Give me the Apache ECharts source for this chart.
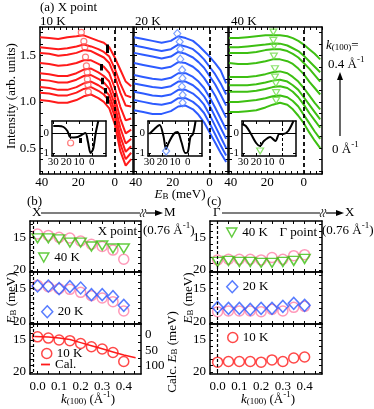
<!DOCTYPE html>
<html>
<head>
<meta charset="utf-8">
<script src="https://cdn.jsdelivr.net/npm/echarts@6/dist/echarts.min.js"></script>
<style>
html, body { margin: 0; padding: 0; background: #fff; }
#chart { width: 374px; height: 409px; }
</style>
</head>
<body>
<div id="chart"></div>
<script>
const FONT = '"Liberation Serif", "DejaVu Serif", serif';

// ---- panel (a): spectra, binding energy grid (meV) ----
const ebX = [41, 36, 31, 26, 21, 17, 13, 9, 6, 3, 0, -3, -6, -9];
const kVals = [0, 0.05, 0.1, 0.15, 0.2, 0.25, 0.3, 0.35, 0.4];

// one row per k(100), from 0 (bottom) to 0.4 (top)
const spec10K = [
    [1.02, 1.01, 0.99, 0.99, 1.02, 1.06, 1.08, 1.04, 1.00, 0.93, 0.76, 0.47, 0.31, 0.38],
    [1.10, 1.09, 1.07, 1.07, 1.10, 1.14, 1.16, 1.12, 1.08, 1.01, 0.84, 0.55, 0.38, 0.45],
    [1.16, 1.15, 1.13, 1.13, 1.16, 1.20, 1.22, 1.18, 1.14, 1.07, 0.90, 0.63, 0.46, 0.52],
    [1.24, 1.23, 1.21, 1.21, 1.24, 1.28, 1.29, 1.25, 1.21, 1.14, 0.97, 0.72, 0.55, 0.60],
    [1.31, 1.30, 1.28, 1.28, 1.31, 1.35, 1.36, 1.32, 1.28, 1.22, 1.05, 0.82, 0.66, 0.70],
    [1.42, 1.41, 1.39, 1.40, 1.42, 1.45, 1.45, 1.41, 1.38, 1.31, 1.15, 0.95, 0.80, 0.82],
    [1.53, 1.52, 1.50, 1.51, 1.53, 1.56, 1.55, 1.51, 1.48, 1.42, 1.28, 1.10, 0.96, 0.95],
    [1.59, 1.58, 1.57, 1.58, 1.60, 1.62, 1.60, 1.57, 1.54, 1.49, 1.36, 1.20, 1.07, 1.05],
    [1.70, 1.69, 1.68, 1.70, 1.71, 1.72, 1.69, 1.66, 1.64, 1.59, 1.48, 1.35, 1.22, 1.17]
];
const spec20K = [
    [0.91, 0.89, 0.87, 0.87, 0.90, 0.95, 0.96, 0.92, 0.86, 0.78, 0.67, 0.56, 0.45, 0.35],
    [1.02, 1.00, 0.98, 0.97, 0.99, 1.04, 1.04, 1.00, 0.95, 0.88, 0.77, 0.65, 0.53, 0.42],
    [1.11, 1.09, 1.07, 1.06, 1.08, 1.13, 1.13, 1.09, 1.04, 0.97, 0.86, 0.74, 0.62, 0.50],
    [1.20, 1.18, 1.16, 1.15, 1.17, 1.22, 1.22, 1.18, 1.13, 1.06, 0.96, 0.84, 0.72, 0.60],
    [1.29, 1.27, 1.25, 1.24, 1.26, 1.31, 1.31, 1.27, 1.22, 1.15, 1.05, 0.94, 0.82, 0.70],
    [1.42, 1.40, 1.38, 1.36, 1.38, 1.43, 1.42, 1.38, 1.33, 1.26, 1.17, 1.07, 0.95, 0.83],
    [1.53, 1.51, 1.49, 1.47, 1.49, 1.54, 1.52, 1.48, 1.43, 1.37, 1.28, 1.19, 1.08, 0.96],
    [1.61, 1.59, 1.57, 1.55, 1.57, 1.62, 1.60, 1.57, 1.52, 1.46, 1.38, 1.30, 1.20, 1.08],
    [1.70, 1.68, 1.66, 1.64, 1.66, 1.71, 1.69, 1.66, 1.61, 1.55, 1.49, 1.42, 1.34, 1.20]
];
const spec40K = [
    [0.89, 0.89, 0.90, 0.91, 0.94, 0.97, 0.99, 0.97, 0.92, 0.85, 0.77, 0.67, 0.58, 0.50],
    [1.00, 1.00, 1.01, 1.02, 1.04, 1.06, 1.07, 1.05, 1.01, 0.95, 0.86, 0.77, 0.68, 0.60],
    [1.11, 1.11, 1.11, 1.12, 1.14, 1.16, 1.17, 1.15, 1.11, 1.05, 0.97, 0.88, 0.80, 0.72],
    [1.18, 1.18, 1.18, 1.19, 1.21, 1.23, 1.24, 1.22, 1.18, 1.13, 1.05, 0.97, 0.89, 0.81],
    [1.27, 1.27, 1.27, 1.28, 1.30, 1.32, 1.33, 1.31, 1.27, 1.22, 1.15, 1.07, 0.99, 0.92],
    [1.42, 1.41, 1.41, 1.42, 1.44, 1.46, 1.46, 1.44, 1.41, 1.36, 1.30, 1.22, 1.15, 1.08],
    [1.53, 1.53, 1.53, 1.54, 1.56, 1.57, 1.57, 1.55, 1.52, 1.48, 1.42, 1.36, 1.29, 1.22],
    [1.59, 1.59, 1.60, 1.61, 1.62, 1.63, 1.63, 1.61, 1.58, 1.55, 1.50, 1.44, 1.38, 1.32],
    [1.69, 1.69, 1.70, 1.71, 1.72, 1.72, 1.72, 1.71, 1.69, 1.66, 1.62, 1.57, 1.52, 1.46]
];

// black marks on the 10 K spectra: [EB, top, bottom]
const marks10K = [[4.3, 1.62, 1.53], [7.6, 1.41, 1.34], [6.8, 1.26, 1.19], [5.4, 1.15, 1.09], [4.1, 1.06, 0.98]];

// insets (second derivative)
const inset10KEB = [30, 26, 22, 19, 17, 14, 11, 8, 5, 3, 1, -1, -3, -5];
const inset10KVal = [0.35, 0.35, 0.30, 0.10, -0.20, -0.22, -0.20, -0.10, 0.00, -0.45, -1.00, -0.80, 0.00, 0.60];
const inset20KEB = [30, 26, 22, 19, 17, 15, 11, 8, 5, 2, 0, -2, -4, -6];
const inset20KVal = [-0.05, 0.20, 0.40, -0.15, -0.80, -0.50, -0.05, 0.05, -0.45, -1.00, -0.95, -0.20, -0.05, 0.60];
const inset40KEB = [31, 28, 24, 20, 17, 14, 9, 5, 2, -1, -5, -9];
const inset40KVal = [0.45, 0.35, -0.05, -0.50, -0.65, -0.40, -0.20, -0.40, -0.05, -0.05, 0.10, 0.60];
const insetPeaks = [[16.5, -0.5], [16.9, -0.9], [16.9, -0.9]];

// ---- panels (b), (c): peak energies E_B (meV) vs k(100) ----
const xPt10K = [14.5, 14.7, 15.0, 15.1, 15.55, 16.05, 16.4, 16.95, 18.35];
const xPt20K = [14.6, 14.6, 15.0, 14.7, 14.9, 15.9, 15.9, 16.2, 17.5];
const xPt40K = [15.15, 15.15, 15.3, 15.8, 15.8, 16.4, 16.25, 16.7, 16.7];
const gPt10K = [18.45, 18.35, 18.35, 18.35, 18.45, 18.1, 18.35, 17.8, 17.65];
const gPt20K = [17.8, 17.95, 17.95, 18.1, 17.95, 17.95, 17.65, 17.2, 17.5];
const gPt40K = [18.75, 18.6, 18.75, 18.75, 18.9, 18.9, 18.75, 18.6, 18.3];
const calcK = [-0.015, 0.05, 0.1, 0.15, 0.2, 0.25, 0.3, 0.35, 0.4, 0.455];
const calcEB = [5, 7, 10, 15, 25, 35, 45, 55, 65, 74];

// tick labels
const aLabelsX = [40, 20, 0];
const aLabelsY = [0.5, 1.0, 1.5];
const insetLabelsX = [30, 20, 10, 0];
const insetLabelsY = [0, -1];
const bcLabelsX = [0, 0.1, 0.2, 0.3, 0.4];
const bcLabelsY = [15, 20];
const calcLabels = [0, 50, 100];

const RED = '#ff1a1a', BLUE = '#2d5bff', GREEN = '#3dbf12';
const RED_MK = '#ff5a5a', BLUE_MK = '#5d8aff', GREEN_MK = '#6bdc45';
const PINK = '#ff80a8';
const TRI = 'path://M0,0L10,0L5,9Z';

let steps = (a, b, s) => { let out = []; for (let v = a; v <= b + 1e-9; v += s) out.push(+v.toFixed(4)); return out; };
const aTicksX = steps(-10, 40, 20 / 6);
const aTicksY = steps(0.25, 1.75, 0.125);
const bcTicksX = steps(0, 0.45, 0.05);
const bcTicksY = steps(13, 20, 1);

let grids = [], xAxes = [], yAxes = [], series = [];

function axis(g, pos, o, labels, z) {
    return {
        type: 'value', gridIndex: g, position: pos, min: o.min, max: o.max, inverse: !!o.inverse, z: z,
        splitLine: { show: false },
        axisLine: { show: true, onZero: false, lineStyle: { color: '#000', width: 1.5 } },
        axisTick: { show: true, inside: true, length: 3, customValues: o.ticks, lineStyle: { color: '#000', width: 1 } },
        axisLabel: {
            show: !!labels, customValues: labels || [], margin: o.margin || 3, color: '#000',
            fontFamily: FONT, fontSize: o.fontSize || 13, formatter: o.fmt
        }
    };
}

function panel(grid, xo, yo, opts) {
    opts = opts || {};
    let g = grids.length;
    grids.push(Object.assign({ containLabel: false, show: false }, grid));
    let z = grid.z || 0;
    let xi = xAxes.length, yi = yAxes.length;
    xAxes.push(axis(g, 'bottom', xo, opts.xLabels, z));
    xAxes.push(axis(g, 'top', xo, null, z));
    yAxes.push(axis(g, 'left', yo, opts.yLabels, z));
    yAxes.push(opts.right ? axis(g, 'right', opts.right, opts.right.labels, z) : axis(g, 'right', yo, null, z));
    return { xi: xi, yi: yi, yr: yi + 1 };
}

function interp(curve, eb) {
    for (let j = 0; j < ebX.length - 1; j++) {
        if (eb <= ebX[j] && eb >= ebX[j + 1]) {
            let t = (ebX[j] - eb) / (ebX[j] - ebX[j + 1]);
            return curve[j] + t * (curve[j + 1] - curve[j]);
        }
    }
    return curve[0];
}

// ---- panel (a) ----
let aX = { min: -10, max: 41, inverse: true, ticks: aTicksX, margin: 2 };
let aY = { min: 0.22, max: 1.81, ticks: aTicksY, margin: 4, fmt: v => v.toFixed(1) };
let aGrids = [
    { left: 40, top: 27, width: 93, height: 147 },
    { left: 134, top: 27, width: 94, height: 147 },
    { left: 229, top: 27, width: 93, height: 147 }
];
let aSets = [
    { spec: spec10K, peaks: xPt10K, color: RED, mk: RED_MK, symbol: 'circle', size: 6 },
    { spec: spec20K, peaks: xPt20K, color: BLUE, mk: BLUE_MK, symbol: 'diamond', size: [7, 8] },
    { spec: spec40K, peaks: xPt40K, color: GREEN, mk: GREEN_MK, symbol: TRI, size: [7, 6] }
];
aSets.forEach((set, p) => {
    let ax = panel(aGrids[p], aX, aY, { xLabels: aLabelsX, yLabels: p === 0 ? aLabelsY : null });
    set.spec.forEach((curve, i) => {
        series.push({
            type: 'line', xAxisIndex: ax.xi, yAxisIndex: ax.yi, silent: true, animation: false,
            symbol: 'none', z: 2,
            data: ebX.map((x, j) => [x, curve[j]]),
            lineStyle: { color: set.color, width: 2 },
            markLine: i === 0 ? {
                silent: true, symbol: 'none', label: { show: false }, animation: false,
                lineStyle: { color: '#000', type: [4, 3], width: 1.8 },
                data: [{ xAxis: 0 }]
            } : undefined
        });
    });
    series.push({
        type: 'scatter', xAxisIndex: ax.xi, yAxisIndex: ax.yi, silent: true, animation: false, z: 3,
        symbol: set.symbol, symbolSize: set.size,
        itemStyle: { color: 'rgba(0,0,0,0)', borderColor: set.mk, borderWidth: 1.2 },
        data: set.peaks.map((eb, i) => [eb, interp(set.spec[i], eb) + 0.035])
    });
    if (p === 0) {
        series.push({
            type: 'lines', coordinateSystem: 'cartesian2d', xAxisIndex: ax.xi, yAxisIndex: ax.yi,
            silent: true, animation: false, z: 3,
            lineStyle: { color: '#000', width: 3, opacity: 1 },
            data: marks10K.map(m => ({ coords: [[m[0], m[1]], [m[0], m[2]]] }))
        });
    }
});

// insets
let inX = { min: -11, max: 31, inverse: true, ticks: insetLabelsX, fontSize: 11, margin: 1 };
let inY = { min: -1.15, max: 0.6, ticks: insetLabelsY, fontSize: 11, margin: 3 };
let insetGrids = [
    { left: 52, top: 121, width: 54, height: 35, z: 4, show: true, backgroundColor: '#fff', borderWidth: 0 },
    { left: 148, top: 121, width: 54, height: 35, z: 4, show: true, backgroundColor: '#fff', borderWidth: 0 },
    { left: 242, top: 121, width: 54, height: 35, z: 4, show: true, backgroundColor: '#fff', borderWidth: 0 }
];
let insetData = [[inset10KEB, inset10KVal], [inset20KEB, inset20KVal], [inset40KEB, inset40KVal]];
insetData.forEach((d, p) => {
    let ax = panel(insetGrids[p], inX, inY, { xLabels: insetLabelsX, yLabels: insetLabelsY });
    series.push({
        type: 'line', xAxisIndex: ax.xi, yAxisIndex: ax.yi, silent: true, animation: false,
        symbol: 'none', z: 6, smooth: 0.3,
        data: d[0].map((x, j) => [x, d[1][j]]),
        lineStyle: { color: '#000', width: 2 },
        markLine: {
            silent: true, symbol: 'none', label: { show: false }, animation: false,
            data: [
                { xAxis: 0, lineStyle: { color: '#000', type: [3, 2], width: 1 } },
                { yAxis: 0, lineStyle: { color: '#000', type: 'solid', width: 1 } }
            ]
        }
    });
    series.push({
        type: 'scatter', xAxisIndex: ax.xi, yAxisIndex: ax.yi, silent: true, animation: false, z: 7,
        symbol: aSets[p].symbol, symbolSize: aSets[p].size,
        itemStyle: { color: 'rgba(0,0,0,0)', borderColor: aSets[p].mk, borderWidth: 1.2 },
        data: [insetPeaks[p]]
    });
    series.push({
        type: 'lines', coordinateSystem: 'cartesian2d', xAxisIndex: ax.xi, yAxisIndex: ax.yi,
        silent: true, animation: false, z: 7,
        lineStyle: { color: '#000', width: 1, type: [2, 1], opacity: 1 },
        data: [{ coords: [[insetPeaks[p][0], insetPeaks[p][1] + 0.2], [insetPeaks[p][0], insetPeaks[p][1] + 0.45]] }]
            .concat(p === 0 ? [{ coords: [[9.2, -0.25], [9.2, -0.5]], lineStyle: { width: 3, type: 'solid' } }] : [])
    });
});

// ---- panels (b) and (c) ----
let bcX = { min: -0.035, max: 0.48, ticks: bcTicksX, margin: 6, fmt: v => v.toFixed(1) };
let bcY = { min: 12.5, max: 20.3, inverse: true, ticks: bcTicksY, margin: 4 };
let calcAxis = { min: -35, max: 126, inverse: true, ticks: [0, 25, 50, 75, 100], labels: calcLabels, margin: 4 };
let rows = [{ top: 221, height: 51 }, { top: 272, height: 52 }, { top: 324, height: 50 }];

function scat(ax, name, data, symbol, size, color, z) {
    series.push({
        type: 'scatter', name: name, xAxisIndex: ax.xi, yAxisIndex: ax.yi, silent: true, animation: false, z: z,
        symbol: symbol, symbolSize: size,
        itemStyle: { color: 'rgba(0,0,0,0)', borderColor: color, borderWidth: 1.5 },
        data: kVals.map((k, i) => [k, data[i]])
    });
}

[[30, 111, xPt10K, xPt20K, xPt40K, -0.022], [210, 112, gPt10K, gPt20K, gPt40K, 0]].forEach((col, c) => {
    let axes = rows.map((r, i) => panel(
        { left: col[0], top: r.top, width: col[1], height: r.height },
        bcX, bcY,
        { xLabels: i === 2 ? bcLabelsX : null, yLabels: bcLabelsY, right: (c === 0 && i === 2) ? calcAxis : null }
    ));
    axes.forEach(ax => series.push({
        type: 'line', xAxisIndex: ax.xi, yAxisIndex: ax.yi, silent: true, animation: false, data: [],
        markLine: {
            silent: true, symbol: 'none', label: { show: false }, animation: false,
            lineStyle: { color: '#000', type: [3, 2], width: 1.2 }, data: [{ xAxis: col[5] }]
        }
    }));
    scat(axes[0], '10 K ref', col[2], 'circle', 10, PINK, 3);
    scat(axes[0], '40 K', col[4], TRI, [11, 9], GREEN, 4);
    scat(axes[1], '10 K ref', col[2], 'circle', 10, PINK, 3);
    scat(axes[1], '20 K', col[3], 'diamond', [11, 12], BLUE, 4);
    scat(axes[2], '10 K', col[2], 'circle', 10, RED, 4);
    if (c === 0) {
        series.push({
            type: 'line', name: 'Cal.', xAxisIndex: axes[2].xi, yAxisIndex: axes[2].yr, silent: true, animation: false,
            symbol: 'none', z: 3, data: calcK.map((k, i) => [k, calcEB[i]]),
            lineStyle: { color: RED, width: 1.5 }, itemStyle: { color: RED }
        });
    }
});

// ---- legends ----
let legendText = { fontFamily: FONT, fontSize: 13, color: '#000' };
function legend(left, top, name, icon, w, h, style) {
    return {
        left: left, top: top, padding: 0, itemWidth: w, itemHeight: h, itemGap: 0, selectedMode: false,
        textStyle: legendText,
        data: [{ name: name, icon: icon, itemStyle: style }]
    };
}
let open = c => ({ color: 'rgba(0,0,0,0)', borderColor: c, borderWidth: 1.5 });
let legends = [
    legend(38, 251, '40 K', TRI, 11, 9, open(GREEN)),
    legend(41, 305, '20 K', 'diamond', 11, 12, open(BLUE)),
    legend(41, 347, '10 K', 'circle', 10, 10, open(RED)),
    legend(41, 358, 'Cal.', 'path://M0,0L10,0L10,2L0,2Z', 9, 2, { color: RED, borderWidth: 0 }),
    legend(226, 226, '40 K', TRI, 11, 9, open(GREEN)),
    legend(226, 280, '20 K', 'diamond', 11, 12, open(BLUE)),
    legend(227, 331, '10 K', 'circle', 10, 10, open(RED))
];

// ---- texts and decorations ----
let rich = {
    i: { fontFamily: FONT, fontSize: 13, fontStyle: 'italic', fill: '#000', verticalAlign: 'bottom', lineHeight: 16 },
    n: { fontFamily: FONT, fontSize: 13, fill: '#000', verticalAlign: 'bottom', lineHeight: 16 },
    sub: { fontFamily: FONT, fontSize: 9, fill: '#000', verticalAlign: 'bottom', lineHeight: 9 },
    sup: { fontFamily: FONT, fontSize: 9, fill: '#000', verticalAlign: 'top', lineHeight: 9 }
};
function txt(x, y, text, o) {
    o = o || {};
    return {
        type: 'text', x: x, y: y, rotation: o.rot || 0, silent: true,
        style: {
            text: text, rich: rich, fill: '#000', fontFamily: FONT, fontSize: o.size || 13,
            align: o.align || 'left', verticalAlign: 'middle'
        }
    };
}
let blk = { stroke: '#000', lineWidth: 1.2 };
function breakMark(x, y) {
    return [0, 3].map(d => ({
        type: 'bezierCurve', silent: true, style: { stroke: '#000', lineWidth: 1, fill: null },
        shape: { x1: x + d, y1: y + 4, x2: x + d + 1, y2: y - 4, cpx1: x + d - 3, cpy1: y, cpx2: x + d + 4, cpy2: y }
    }));
}
let graphics = [
    txt(40, 8, '(a) X point'),
    txt(40, 22, '10 K'), txt(135, 22, '20 K'), txt(231, 22, '40 K'),
    txt(12, 96, 'Intensity (arb. units)', { rot: Math.PI / 2, align: 'center' }),
    txt(180, 193, '{i|E}{sub|B}{n| (meV)}', { align: 'center' }),
    txt(326, 44, '{i|k}{sub|(100)}{n|=}'),
    txt(328, 63, '{n|0.4 Å}{sup|-1}'),
    txt(332, 148, '{n|0 Å}{sup|-1}'),
    { type: 'line', silent: true, shape: { x1: 340, y1: 136, x2: 340, y2: 78 }, style: blk },
    { type: 'polygon', silent: true, shape: { points: [[340, 72], [337, 80], [343, 80]] }, style: { fill: '#000' } },

    txt(27, 202, '(b)'), txt(32, 213, 'X'),
    { type: 'line', silent: true, shape: { x1: 41, y1: 213, x2: 140, y2: 213 }, style: blk },
    { type: 'line', silent: true, shape: { x1: 146, y1: 213, x2: 157, y2: 213 }, style: blk },
    { type: 'polygon', silent: true, shape: { points: [[163, 213], [155, 210], [155, 216]] }, style: { fill: '#000' } },
    txt(164, 213, 'M'),
    txt(143, 229, '{n|(0.76 Å}{sup|-1}{n|)}'),
    txt(137, 232, 'X point', { align: 'right' }),

    txt(207, 202, '(c)'), txt(213, 213, 'Γ'),
    { type: 'line', silent: true, shape: { x1: 222, y1: 213, x2: 320, y2: 213 }, style: blk },
    { type: 'line', silent: true, shape: { x1: 326, y1: 213, x2: 338, y2: 213 }, style: blk },
    { type: 'polygon', silent: true, shape: { points: [[344, 213], [336, 210], [336, 216]] }, style: { fill: '#000' } },
    txt(345, 213, 'X'),
    txt(322, 229, '{n|(0.76 Å}{sup|-1}{n|)}'),
    txt(317, 233, 'Γ point', { align: 'right' }),

    txt(10, 298, '{i|E}{sub|B}{n| (meV)}', { rot: Math.PI / 2, align: 'center' }),
    txt(187, 298, '{i|E}{sub|B}{n| (meV)}', { rot: Math.PI / 2, align: 'center' }),
    txt(171, 352, '{n|Calc. }{i|E}{sub|B}{n| (meV)}', { rot: Math.PI / 2, align: 'center' }),
    txt(88, 398, '{i|k}{sub|(100)}{n| (Å}{sup|-1}{n|)}', { align: 'center' }),
    txt(268, 398, '{i|k}{sub|(100)}{n| (Å}{sup|-1}{n|)}', { align: 'center' })
].concat(breakMark(141, 213), breakMark(321, 213));

let chart = echarts.init(document.getElementById('chart'));
chart.setOption({
    animation: false,
    backgroundColor: '#fff',
    grid: grids,
    xAxis: xAxes,
    yAxis: yAxes,
    legend: legends,
    series: series,
    graphic: graphics
});
</script>
</body>
</html>
